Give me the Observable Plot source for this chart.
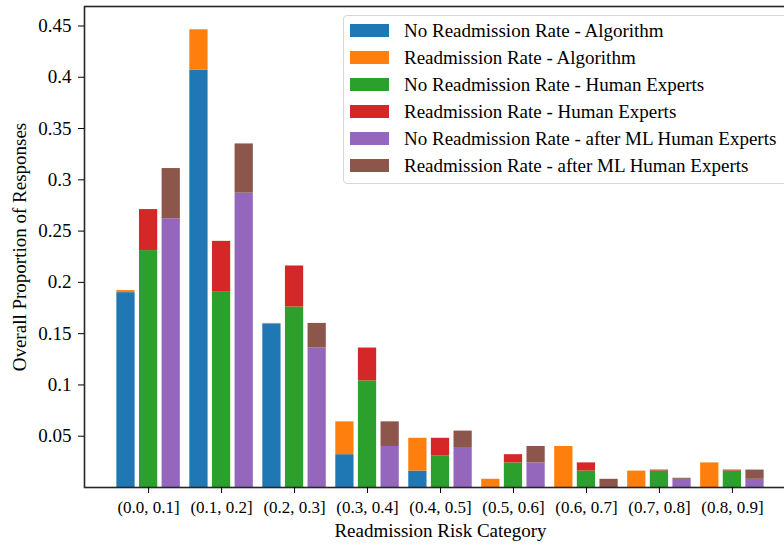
<!DOCTYPE html>
<html><head><meta charset="utf-8">
<script src="https://cdn.jsdelivr.net/npm/d3@7"></script>
<script src="https://cdn.jsdelivr.net/npm/@observablehq/plot@0.6"></script>
<style>
body{margin:0;overflow:hidden;background:#fff;}
#wrap{position:relative;width:784px;height:546px;overflow:hidden;}
#legend{position:absolute;left:343px;top:15px;width:470px;height:169px;border:1.5px solid #d6d6d6;border-radius:4px;background:rgba(255,255,255,0.85);font:19px "Liberation Serif";color:#000;box-sizing:border-box;padding-top:1px;}
.row{height:27px;display:flex;align-items:center;white-space:nowrap;}
.sw{width:39px;height:13px;margin-left:6px;margin-right:15px;flex:none;}
</style></head>
<body><div id="wrap"><div id="chart"></div><div id="legend"></div></div>
<script>
const categories = ["(0.0, 0.1]","(0.1, 0.2]","(0.2, 0.3]","(0.3, 0.4]","(0.4, 0.5]","(0.5, 0.6]","(0.6, 0.7]","(0.7, 0.8]","(0.8, 0.9]"];
const sources = ["Algorithm","Human Experts","after ML Human Experts"];
const noReadmitAlgorithm = [0.190, 0.407, 0.159, 0.032, 0.016, 0, 0, 0, 0];
const readmitAlgorithm   = [0.002, 0.0393, 0.001, 0.032, 0.032, 0.008, 0.040, 0.016, 0.024];
const noReadmitHuman     = [0.231, 0.191, 0.176, 0.104, 0.031, 0.024, 0.016, 0.016, 0.016];
const readmitHuman       = [0.040, 0.049, 0.040, 0.032, 0.017, 0.008, 0.008, 0.001, 0.001];
const noReadmitAfterML   = [0.262, 0.287, 0.136, 0.040, 0.039, 0.024, 0, 0.008, 0.008];
const readmitAfterML     = [0.049, 0.048, 0.024, 0.024, 0.016, 0.016, 0.008, 0.001, 0.009];
const seriesNames = [
  "No Readmission Rate - Algorithm",
  "Readmission Rate - Algorithm",
  "No Readmission Rate - Human Experts",
  "Readmission Rate - Human Experts",
  "No Readmission Rate - after ML Human Experts",
  "Readmission Rate - after ML Human Experts"
];
const colors = ["#1f77b4","#ff7f0e","#2ca02c","#d62728","#9467bd","#8c564b"];
const yTicks = [0.05,0.1,0.15,0.2,0.25,0.3,0.35,0.4,0.45];

const pairs = [[noReadmitAlgorithm, readmitAlgorithm],[noReadmitHuman, readmitHuman],[noReadmitAfterML, readmitAfterML]];
const offsets = [-0.31, 0, 0.31];
const barW = 0.25;
const rows = [];
categories.forEach((c, i) => {
  pairs.forEach(([no, re], s) => {
    const cx = i + offsets[s];
    rows.push({x1: cx - barW/2, x2: cx + barW/2, y1: 0, y2: no[i], series: seriesNames[2*s]});
    rows.push({x1: cx - barW/2, x2: cx + barW/2, y1: no[i], y2: no[i] + re[i], series: seriesNames[2*s+1]});
  });
});

const serif = "Liberation Serif";
const chart = Plot.plot({
  width: 784, height: 546,
  marginTop: 6, marginLeft: 84, marginRight: -12, marginBottom: 59,
  style: {fontFamily: serif, fontSize: "19px", color: "#000", background: "#fff", overflow: "hidden"},
  x: {domain: [-0.8785, 8.8785]},
  y: {domain: [0, 0.469]},
  color: {domain: seriesNames, range: colors},
  marks: [
    Plot.rect(rows.filter(d => d.y2 > d.y1), {x1: "x1", x2: "x2", y1: "y1", y2: "y2", fill: "series"}),
    Plot.frame({stroke: "#262626", strokeWidth: 1.6}),
    Plot.axisX({ticks: d3.range(categories.length), tickFormat: i => categories[i], tickSize: 6, tickPadding: 7,
      fontFamily: serif, fontSize: 17, label: null}),
    Plot.axisX({ticks: [], tickSize: 0, fontFamily: serif, fontSize: 19,
      label: "Readmission Risk Category", labelAnchor: "center", labelOffset: 49, labelArrow: "none"}),
    Plot.axisY({ticks: yTicks, tickFormat: d => String(+d.toFixed(2)), tickSize: 6, tickPadding: 7,
      fontFamily: serif, fontSize: 19, fontVariant: "normal",
      label: "Overall Proportion of Responses", labelAnchor: "center", labelOffset: 72, labelArrow: "none"})
  ]
});
document.getElementById("chart").appendChild(chart);

const legend = document.getElementById("legend");
seriesNames.forEach((n, k) => {
  const r = document.createElement("div"); r.className = "row";
  const sw = document.createElement("span"); sw.className = "sw"; sw.style.background = colors[k];
  const t = document.createElement("span"); t.textContent = n;
  r.appendChild(sw); r.appendChild(t); legend.appendChild(r);
});
</script>
</body></html>
